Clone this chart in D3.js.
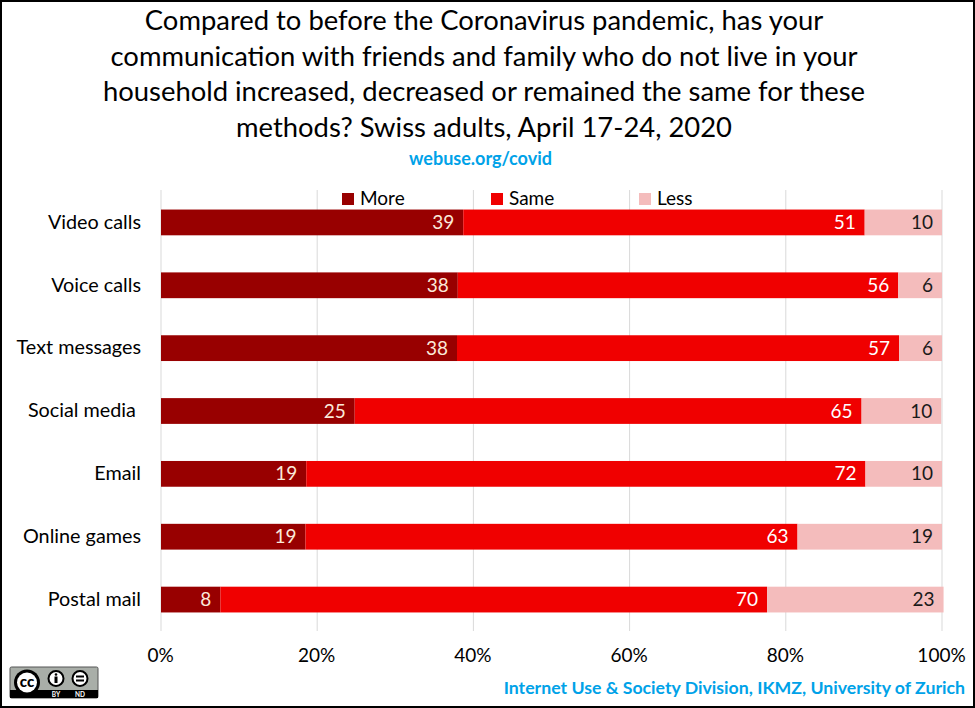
<!DOCTYPE html>
<html>
<head>
<meta charset="utf-8">
<script src="https://cdn.jsdelivr.net/npm/d3@7"></script>
<style>
html, body { margin: 0; padding: 0; background: #fff; }
svg { display: block; }
text { font-family: Lato, "Open Sans", sans-serif; white-space: pre; }
</style>
</head>
<body>
<div id="chart"></div>
<script>
var categories = ["Video calls", "Voice calls", "Text messages", "Social media ", "Email", "Online games", "Postal mail"];
var more = [38.7, 38.0, 37.9, 24.8, 18.6, 18.5, 7.6];
var same = [51.4, 56.4, 56.6, 64.9, 71.6, 63.0, 70.0];
var less = [9.9, 5.6, 5.5, 10.2, 9.8, 18.5, 22.6];
var seriesNames = ["More", "Same", "Less"];
var seriesColors = ["#980000", "#f00000", "#f4bcbc"];
var labelColors = ["#fbe9d9", "#ffffff", "#1a1a1a"];
var xTicks = [0, 20, 40, 60, 80, 100];
var titleLines = [
  "Compared to before the Coronavirus pandemic, has your",
  "communication with friends and family who do not live in your",
  "household increased, decreased or remained the same for these",
  "methods? Swiss adults, April 17-24, 2020"
];

var width = 975, height = 708;
var margin = {top: 191, right: 33, bottom: 77, left: 161};

var svg = d3.select("#chart").append("svg")
    .attr("width", width)
    .attr("height", height);

svg.append("rect")
    .attr("x", 1).attr("y", 1)
    .attr("width", width - 2).attr("height", height - 2)
    .attr("fill", "#fff")
    .attr("stroke", "#000")
    .attr("stroke-width", 2);

var xScale = d3.scaleLinear().domain([0, 100]).range([margin.left, width - margin.right]);
var yScale = d3.scaleBand().domain(categories)
    .range([margin.top, height - margin.bottom])
    .paddingInner(0.59).paddingOuter(0.295);

// title
svg.selectAll(".title").data(titleLines).enter().append("text")
    .attr("class", "title")
    .attr("x", 484)
    .attr("y", function(d, i) { return 30 + i * 35.7; })
    .attr("text-anchor", "middle")
    .attr("font-size", 27.4)
    .attr("fill", "#000")
    .text(function(d) { return d; });

svg.append("text")
    .attr("x", 480.5).attr("y", 165)
    .attr("text-anchor", "middle")
    .attr("font-size", 18)
    .attr("font-weight", 700)
    .attr("fill", "#00a2e8")
    .text("webuse.org/covid");

// gridlines
svg.append("g").selectAll("line").data(xTicks).enter().append("line")
    .attr("x1", function(d) { return xScale(d); })
    .attr("x2", function(d) { return xScale(d); })
    .attr("y1", margin.top - 1)
    .attr("y2", height - margin.bottom)
    .attr("stroke", "#d9d9d9")
    .attr("stroke-width", 1);

// axes
var xAxis = d3.axisBottom(xScale).tickValues(xTicks).tickSize(0).tickPadding(0)
    .tickFormat(function(d) { return d + "%"; });
var yAxis = d3.axisLeft(yScale).tickSize(0).tickPadding(20);

var gx = svg.append("g")
    .attr("transform", "translate(-1," + (height - margin.bottom + 17) + ")")
    .call(xAxis);
var gy = svg.append("g")
    .attr("transform", "translate(" + margin.left + ",0)")
    .call(yAxis);
gx.select(".domain").remove();
gy.select(".domain").remove();
gx.selectAll("text").attr("font-size", 19).attr("fill", "#000").style("font-family", "Lato");
gy.selectAll("text").attr("font-size", 19.8).attr("fill", "#000").style("font-family", "Lato");

// stacked bars
var rows = categories.map(function(c, i) {
  return {category: c, More: more[i], Same: same[i], Less: less[i]};
});
var stacked = d3.stack().keys(seriesNames)(rows);

var layers = svg.selectAll(".layer").data(stacked).enter().append("g")
    .attr("class", "layer");

layers.selectAll("rect").data(function(d) { return d; }).enter().append("rect")
    .attr("x", function(d) { return xScale(d[0]); })
    .attr("y", function(d) { return yScale(d.data.category); })
    .attr("width", function(d) { return xScale(d[1]) - xScale(d[0]); })
    .attr("height", yScale.bandwidth())
    .attr("fill", function() { return seriesColors[seriesNames.indexOf(d3.select(this.parentNode).datum().key)]; });

layers.selectAll("text").data(function(d) { return d; }).enter().append("text")
    .attr("x", function(d) { return xScale(d[1]) - 9; })
    .attr("y", function(d) { return yScale(d.data.category) + yScale.bandwidth() / 2 + 6.5; })
    .attr("text-anchor", "end")
    .attr("font-size", 19)
    .attr("fill", function() { return labelColors[seriesNames.indexOf(d3.select(this.parentNode).datum().key)]; })
    .text(function(d) { return d3.format(".0f")(d[1] - d[0]); });

// legend
var legendX = d3.scaleOrdinal().domain(seriesNames).range([342, 491, 639]);
var legend = svg.selectAll(".legend").data(seriesNames).enter().append("g")
    .attr("class", "legend")
    .attr("transform", function(d) { return "translate(" + legendX(d) + ",193)"; });
legend.append("rect")
    .attr("width", 12).attr("height", 12)
    .attr("fill", function(d, i) { return seriesColors[i]; });
legend.append("text")
    .attr("x", 18).attr("y", 12)
    .attr("font-size", 19)
    .attr("fill", "#000")
    .text(function(d) { return d; });

// footer
svg.append("text")
    .attr("x", 965).attr("y", 694)
    .attr("text-anchor", "end")
    .attr("font-size", 17.7)
    .attr("font-weight", 700)
    .attr("fill", "#00a2e8")
    .text("Internet Use & Society Division, IKMZ, University of Zurich");

// cc badge
var badge = svg.append("g").attr("transform", "translate(10,667)");
badge.append("rect").attr("width", 88).attr("height", 31).attr("rx", 1.5)
    .attr("fill", "#a9aea8").attr("stroke", "#555").attr("stroke-width", 1);
badge.append("rect").attr("y", 23).attr("width", 88).attr("height", 8).attr("fill", "#000");
badge.append("circle").attr("cx", 17).attr("cy", 15.5).attr("r", 13).attr("fill", "#000");
badge.append("circle").attr("cx", 17).attr("cy", 15.5).attr("r", 10).attr("fill", "#fff");
badge.append("text").attr("x", 17).attr("y", 20).attr("text-anchor", "middle")
    .attr("font-size", 15).attr("font-weight", 900).attr("fill", "#000").text("cc");
[46, 70].forEach(function(cx) {
  badge.append("circle").attr("cx", cx).attr("cy", 11.5).attr("r", 7.5)
      .attr("fill", "#fff").attr("stroke", "#000").attr("stroke-width", 2);
});
badge.append("circle").attr("cx", 46).attr("cy", 7.5).attr("r", 1.3).attr("fill", "#000");
badge.append("rect").attr("x", 44.5).attr("y", 9.5).attr("width", 3).attr("height", 6.5).attr("fill", "#000");
badge.append("rect").attr("x", 66).attr("y", 8.5).attr("width", 8).attr("height", 2).attr("fill", "#000");
badge.append("rect").attr("x", 66).attr("y", 12.5).attr("width", 8).attr("height", 2).attr("fill", "#000");
badge.append("text").attr("x", 46).attr("y", 30).attr("text-anchor", "middle")
    .attr("font-size", 6.5).attr("font-weight", 700).attr("fill", "#fff").text("BY");
badge.append("text").attr("x", 70).attr("y", 30).attr("text-anchor", "middle")
    .attr("font-size", 6.5).attr("font-weight", 700).attr("fill", "#fff").text("ND");
</script>
</body>
</html>
